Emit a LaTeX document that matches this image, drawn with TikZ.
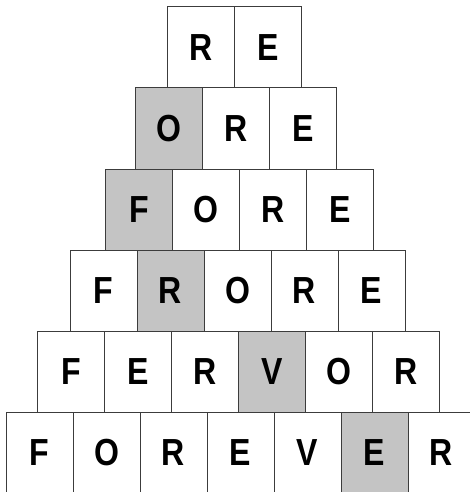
\documentclass[tikz,border=0pt]{standalone}
\usepackage{fontspec}
\setmainfont{Liberation Sans}
\usetikzlibrary{positioning}

\definecolor{edgegray}{RGB}{60,60,60}
\definecolor{markgray}{RGB}{196,196,196}
\newcommand{\tilech}[1]{\scalebox{0.85}[1]{#1}}

\begin{document}
\begin{tikzpicture}[
x=1pt, y=-1pt,
node distance=0pt,
box/.style={
draw=edgegray,
line width=1pt,
fill=white,
minimum width=67pt,
minimum height=81pt,
inner sep=0pt,
outer sep=0pt,
font=\fontsize{37.7}{40}\selectfont\bfseries},
markbox/.style={box, fill=markgray}
]

\useasboundingbox (0,0) rectangle (470,492);
\clip (0,0) rectangle (470,492);

% row 1
\node[box] (a1) at (201.2,47.5) {\tilech{R}};
\node[box] (a2) [right=of a1] {\tilech{E}};

% row 2
\node[markbox] (b1) at (168.8,128.5) {\tilech{O}};
\node[box] (b2) [right=of b1] {\tilech{R}};
\node[box] (b3) [right=of b2] {\tilech{E}};

% row 3
\node[markbox] (c1) at (139.2,209.5) {\tilech{F}};
\node[box] (c2) [right=of c1] {\tilech{O}};
\node[box] (c3) [right=of c2] {\tilech{R}};
\node[box] (c4) [right=of c3] {\tilech{E}};

% row 4
\node[box] (d1) at (103.5,290.5) {\tilech{F}};
\node[markbox] (d2) [right=of d1] {\tilech{R}};
\node[box] (d3) [right=of d2] {\tilech{O}};
\node[box] (d4) [right=of d3] {\tilech{R}};
\node[box] (d5) [right=of d4] {\tilech{E}};

% row 5
\node[box] (e1) at (70.8,371.5) {\tilech{F}};
\node[box] (e2) [right=of e1] {\tilech{E}};
\node[box] (e3) [right=of e2] {\tilech{R}};
\node[markbox] (e4) [right=of e3] {\tilech{V}};
\node[box] (e5) [right=of e4] {\tilech{O}};
\node[box] (e6) [right=of e5] {\tilech{R}};

% row 6
\node[box] (f1) at (39.5,452.5) {\tilech{F}};
\node[box] (f2) [right=of f1] {\tilech{O}};
\node[box] (f3) [right=of f2] {\tilech{R}};
\node[box] (f4) [right=of f3] {\tilech{E}};
\node[box] (f5) [right=of f4] {\tilech{V}};
\node[markbox] (f6) [right=of f5] {\tilech{E}};
\node[box] (f7) [right=of f6] {\tilech{R}};

\end{tikzpicture}
\end{document}
